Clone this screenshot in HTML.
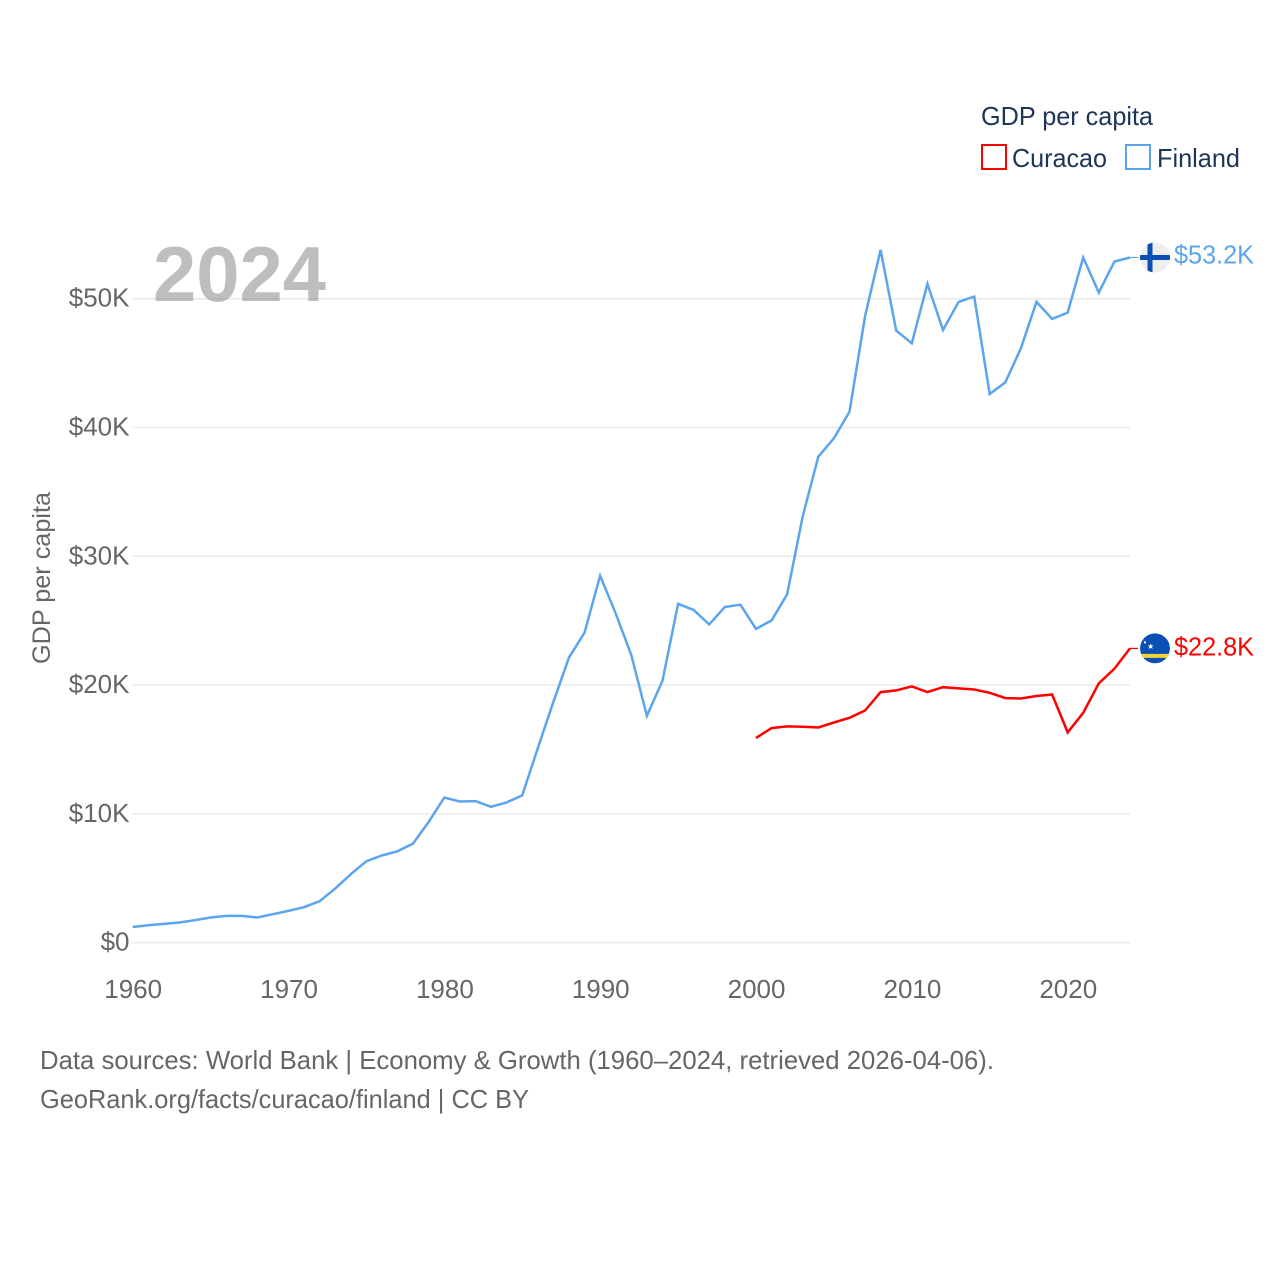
<!DOCTYPE html>
<html lang="en">
<head>
<meta charset="utf-8">
<title>GDP per capita: Curacao and Finland</title>
<style>
html,body{margin:0;padding:0;background:#fff;}
svg{display:block;font-family:"Liberation Sans",sans-serif;}
</style>
</head>
<body>
<svg id="chart" xmlns="http://www.w3.org/2000/svg" width="1280" height="1280" viewBox="0 0 1280 1280">
  <defs>
    <clipPath id="flag-clip"><circle cx="0" cy="0" r="15"></circle></clipPath>
  </defs>
  <g id="grid"></g>
  <g id="y-ticks"></g>
  <g id="x-ticks"></g>
  <text x="153" y="301" font-size="78" font-weight="700" fill="#888" fill-opacity="0.55" textLength="173" lengthAdjust="spacingAndGlyphs">2024</text>
  <text transform="translate(50,578) rotate(-90)" text-anchor="middle" font-size="25" fill="#666" textLength="172" lengthAdjust="spacingAndGlyphs">GDP per capita</text>
  <g id="series"></g>
  <g id="end-labels"></g>
  <g>
    <text x="981" y="125" font-size="26" fill="#1d3557" textLength="172" lengthAdjust="spacingAndGlyphs">GDP per capita</text>
    <rect x="982" y="145" width="24" height="24" fill="none" stroke="#ff0000" stroke-width="2"></rect>
    <text x="1012" y="167" font-size="26" fill="#1d3557" textLength="95" lengthAdjust="spacingAndGlyphs">Curacao</text>
    <rect x="1126" y="145" width="24" height="24" fill="none" stroke="#5ba4ee" stroke-width="2"></rect>
    <text x="1157" y="167" font-size="26" fill="#1d3557" textLength="83" lengthAdjust="spacingAndGlyphs">Finland</text>
  </g>
  <text x="40" y="1069" font-size="26" fill="#666" textLength="954" lengthAdjust="spacingAndGlyphs">Data sources: World Bank | Economy &amp; Growth (1960–2024, retrieved 2026-04-06).</text>
  <text x="40" y="1108" font-size="26" fill="#666" textLength="489" lengthAdjust="spacingAndGlyphs">GeoRank.org/facts/curacao/finland | CC BY</text>
</svg>
<script>
const finlandStartYear = 1960;
const finlandValues = [1.22,1.36,1.46,1.57,1.75,1.96,2.08,2.08,1.96,2.21,2.47,2.76,3.22,4.2,5.32,6.33,6.77,7.1,7.7,9.38,11.27,10.96,10.99,10.55,10.89,11.43,15.1,18.7,22.15,24.06,28.49,25.57,22.33,17.62,20.33,26.31,25.83,24.71,26.06,26.24,24.37,25.02,27.04,33.1,37.73,39.16,41.23,48.66,53.79,47.52,46.54,51.15,47.57,49.75,50.16,42.6,43.5,46.15,49.75,48.43,48.92,53.2,50.47,52.88,53.2];
const curacaoStartYear = 2000;
const curacaoValues = [15.9,16.66,16.79,16.76,16.71,17.1,17.46,18.03,19.46,19.59,19.9,19.46,19.84,19.74,19.66,19.4,18.99,18.96,19.15,19.27,16.33,17.85,20.13,21.27,22.85];
const yTickValues = [0,10,20,30,40,50];
const yTickLabels = ["$0","$10K","$20K","$30K","$40K","$50K"];
const xTickYears = [1960,1970,1980,1990,2000,2010,2020];
const finlandEndLabel = "$53.2K";
const curacaoEndLabel = "$22.8K";

const NS = "http://www.w3.org/2000/svg";
const plot = {left:132.6, right:1130, zero:942.7, fifty:298.7, yearMin:1960, yearMax:2024};
function xScale(year){ return plot.left + (year-plot.yearMin)*(plot.right-plot.left)/(plot.yearMax-plot.yearMin); }
function yScale(value){ return plot.zero + value*(plot.fifty-plot.zero)/50; }
function make(tag, attrs, parent, text){
  const el = document.createElementNS(NS, tag);
  for (const k in attrs) el.setAttribute(k, attrs[k]);
  if (text !== undefined) el.textContent = text;
  parent.appendChild(el);
  return el;
}
const gridG = document.getElementById('grid');
const yG = document.getElementById('y-ticks');
const xG = document.getElementById('x-ticks');
const seriesG = document.getElementById('series');
const labelG = document.getElementById('end-labels');

yTickValues.forEach(function(v,i){
  const line = make('line',{x1:plot.left,x2:plot.right,y1:yScale(v),y2:yScale(v),stroke:'#e9e9e9','stroke-width':1.5},gridG);
  
  
  const t = make('text',{x:129.5,y:yScale(v)+8,'text-anchor':'end','font-size':26,fill:'#666'},yG,yTickLabels[i]);
  
  
});
xTickYears.forEach(function(yr){
  const t = make('text',{x:xScale(yr)+0.6,y:998,'text-anchor':'middle','font-size':26,fill:'#666'},xG,String(yr));
  
  
});
function linePoints(values,start){
  return values.map(function(v,i){ return xScale(start+i).toFixed(1)+','+yScale(v).toFixed(1); }).join(' ');
}
const finLine = make('polyline',{points:linePoints(finlandValues,finlandStartYear),fill:'none',stroke:'#5ba4ee','stroke-width':2.5,'stroke-linejoin':'miter'},seriesG);


const curLine = make('polyline',{points:linePoints(curacaoValues,curacaoStartYear),fill:'none',stroke:'#ff0000','stroke-width':2.5,'stroke-linejoin':'miter'},seriesG);



const finEndY = yScale(finlandValues[finlandValues.length-1]);
const curEndY = yScale(curacaoValues[curacaoValues.length-1]);

const finConn = make('line',{x1:plot.right,x2:1138,y1:finEndY,y2:finEndY,stroke:'#5ba4ee','stroke-width':1.2},labelG);


const curConn = make('line',{x1:plot.right,x2:1138,y1:curEndY,y2:curEndY,stroke:'#ff0000','stroke-width':1.2},labelG);



const finFlag = make('g',{transform:'translate(1155,'+finEndY+')','clip-path':'url(#flag-clip)'},labelG);


make('circle',{cx:0,cy:0,r:15,fill:'#eeeeee'},finFlag);
make('rect',{x:-15,y:-2.5,width:30,height:5,fill:'#0a4fb3'},finFlag);
make('rect',{x:-7.5,y:-15,width:5,height:30,fill:'#0a4fb3'},finFlag);

const curFlag = make('g',{transform:'translate(1155,'+curEndY+')','clip-path':'url(#flag-clip)'},labelG);


make('circle',{cx:0,cy:0,r:15,fill:'#0a4fb3'},curFlag);
make('rect',{x:-15,y:5.5,width:30,height:4,fill:'#f5d13a'},curFlag);
make('polygon',{points:'-4.3,-5 -3.5,-2.9 -1.3,-2.9 -3,-1.5 -2.4,0.7 -4.3,-0.6 -6.2,0.7 -5.6,-1.5 -7.3,-2.9 -5.1,-2.9',fill:'#fff'},curFlag);
make('circle',{cx:-10,cy:-6,r:1.1,fill:'#fff'},curFlag);

const finLabel = make('text',{x:1174,y:finEndY+6,'font-size':26,fill:'#5ba4ee',textLength:80,lengthAdjust:'spacingAndGlyphs'},labelG,finlandEndLabel);


const curLabel = make('text',{x:1174,y:curEndY+7,'font-size':26,fill:'#ff0000',textLength:80,lengthAdjust:'spacingAndGlyphs'},labelG,curacaoEndLabel);


</script>
</body>
</html>
